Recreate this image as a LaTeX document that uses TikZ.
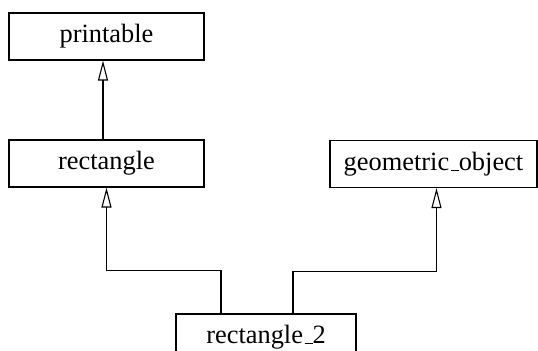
\documentclass[tikz,border=0pt]{standalone}
\usepackage{fontspec}
\setmainfont{Liberation Serif}
\usetikzlibrary{arrows.meta,calc}
% low underscore rule, like plain LaTeX
\newcommand{\lowbar}{\leavevmode\kern.06em\vbox{\hrule width.3em}}

\begin{document}
\begin{tikzpicture}[x=0.5pt, y=-0.5pt,
    classbox/.style={draw, line width=0.6pt, minimum height=23.5pt, inner sep=0pt,
      font=\fontsize{13.2}{15}\selectfont},
    inherit/.style={-{Triangle[open, length=10pt, width=5pt]}, line width=0.55pt}]
    % Page size, bottom box runs off the edge
    \useasboundingbox (0,0) rectangle (538,351);

    % Classes
    \node[classbox, minimum width=97.5pt] (printable) at (106.5,36.5) {printable};
    \node[classbox, minimum width=97.5pt] (rectangle) at (106.5,163.5) {rectangle};
    \node[classbox, minimum width=103.5pt] (geometric) at (433.5,164) {geometric\lowbar object};
    \node[classbox, minimum width=90pt] (rectangle2) at (266,337.5) {rectangle\lowbar 2};

    % Inheritance arrows
    \draw[inherit] ($(rectangle.north)+(-3.5,0)$) -- ($(printable.south)+(-3.5,0)$);
    \draw[inherit] ($(rectangle2.north)+(-45,0)$) -- ++(0,-43) -| (rectangle.south);
    \draw[inherit] ($(rectangle2.north)+(27,0)$) -- ++(0,-41.5) -| ($(geometric.south)+(3,0)$);
\end{tikzpicture}
\end{document}
